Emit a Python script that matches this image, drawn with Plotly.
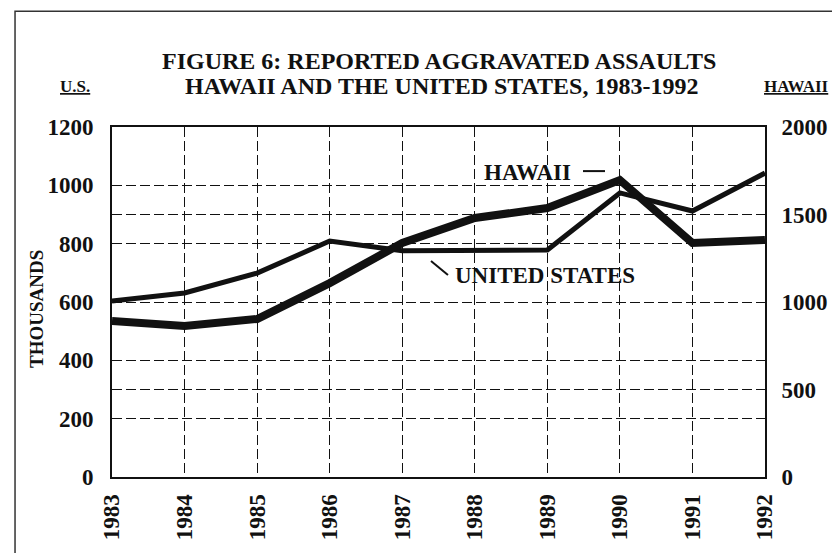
import plotly.graph_objects as go

years = [1983, 1984, 1985, 1986, 1987, 1988, 1989, 1990, 1991, 1992]
us_thousands = [603, 631, 699, 809, 776, 778, 778, 974, 912, 1042]
hawaii = [892, 863, 903, 1108, 1337, 1480, 1537, 1697, 1337, 1355]

us_ticks = [0, 200, 400, 600, 800, 1000, 1200]
hawaii_ticks = [0, 500, 1000, 1500, 2000]

FONT = "Liberation Serif"
INK = "#111111"

fig = go.Figure()
fig.add_trace(go.Scatter(x=years, y=us_thousands, mode="lines", name="UNITED STATES",
                         line=dict(color=INK, width=5), yaxis="y"))
fig.add_trace(go.Scatter(x=years, y=hawaii, mode="lines", name="HAWAII",
                         line=dict(color=INK, width=8), yaxis="y2"))

tickfont = dict(family=FONT, size=23, color=INK, weight="bold")

fig.update_layout(
    width=840, height=553,
    margin=dict(l=104, r=83, t=119, b=84),
    paper_bgcolor="white", plot_bgcolor="white",
    showlegend=False,
    xaxis=dict(range=[1983, 1992], tickvals=years, ticktext=[str(y) for y in years],
               tickangle=-90, ticks="", tickfont=tickfont, ticklabelstandoff=6,
               showgrid=True, gridcolor=INK, gridwidth=1.3, griddash="10px,4px",
               showline=True, linecolor=INK, linewidth=2, mirror=True, zeroline=False),
    yaxis=dict(range=[0, 1200], tickvals=us_ticks, ticks="", tickfont=tickfont,
               ticklabelstandoff=12,
               showgrid=True, gridcolor=INK, gridwidth=1.3, griddash="10px,4px",
               showline=True, linecolor=INK, linewidth=2, mirror=True, zeroline=False),
    yaxis2=dict(range=[0, 2000], tickvals=hawaii_ticks, ticks="", tickfont=tickfont,
                ticklabelstandoff=10, overlaying="y", side="right",
                showgrid=True, gridcolor=INK, gridwidth=1.3, griddash="10px,4px",
                showline=True, linecolor=INK, linewidth=2, zeroline=False),
)

def ann(text, x, y, size, textangle=0):
    fig.add_annotation(text=text, x=x, y=y, xref="paper", yref="paper",
                       showarrow=False, textangle=textangle,
                       font=dict(family=FONT, size=size, color=INK, weight="bold"),
                       xanchor="center", yanchor="middle")

ann("FIGURE 6: REPORTED AGGRAVATED ASSAULTS", 0.5008, 1.1886, 24)
ann("HAWAII AND THE UNITED STATES, 1983-1992", 0.504, 1.117, 24)
ann("<u>U.S.</u>", -0.0567, 1.117, 17)
ann("<u>HAWAII</u>", 1.0475, 1.117, 17)
ann("THOUSANDS", -0.1164, 0.48, 19, textangle=-90)
ann("HAWAII", 0.637, 0.871, 23)
ann("UNITED STATES", 0.663, 0.577, 23)

fig.add_shape(type="line", xref="paper", yref="paper", x0=0.7213, x1=0.755, y0=0.874, y1=0.874,
              line=dict(color=INK, width=2))
fig.add_shape(type="line", xref="paper", yref="paper", x0=0.4885, y0=0.617, x1=0.5145, y1=0.577,
              line=dict(color=INK, width=2))
# outer frame
fig.add_shape(type="rect", xref="paper", yref="paper", x0=-0.1485, x1=1.124, y0=-0.2257, y1=1.331,
              line=dict(color="#333333", width=1.5))

fig.write_html("out.html")
